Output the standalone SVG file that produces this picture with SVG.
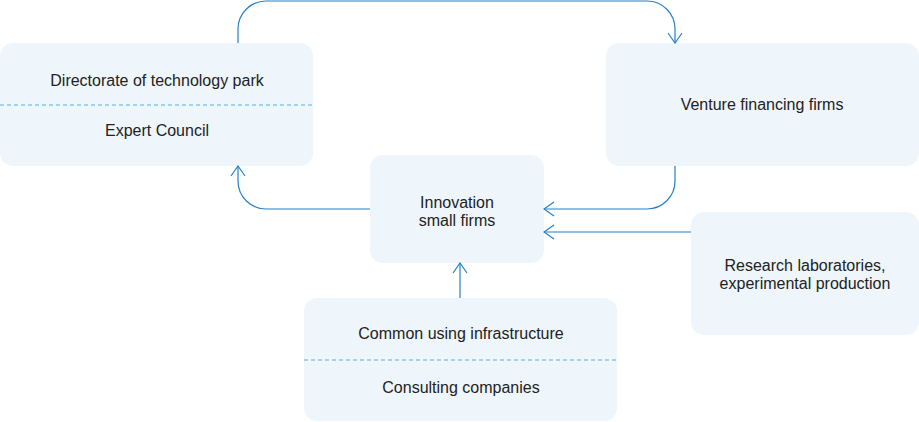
<svg xmlns="http://www.w3.org/2000/svg" width="919" height="422" viewBox="0 0 919 422">
<style>
.box{fill:#eef6fc;}
.sep{stroke:#5aaee0;stroke-width:1.2;stroke-dasharray:4 3;fill:none;}
.t{font-family:"Liberation Sans",Arial,sans-serif;font-size:16px;fill:#222;text-anchor:middle;}
.c{fill:none;stroke:#2580c8;stroke-width:1.2;}
</style>
<defs>
<marker id="ar" viewBox="0 0 12 16" refX="11" refY="8" markerWidth="12" markerHeight="16" markerUnits="userSpaceOnUse" orient="auto">
<path d="M1,1 L11,8 L1,15" fill="none" stroke="#2580c8" stroke-width="1.2"/>
</marker>
</defs>
<g id="n1">
<rect class="box" x="0" y="43" width="313" height="123" rx="13"/>
<line class="sep" x1="0" y1="105" x2="313" y2="105"/>
<text class="t" x="157" y="86">Directorate of technology park</text>
<text class="t" x="157" y="136">Expert Council</text>
</g>
<g id="n2">
<rect class="box" x="606" y="43" width="313" height="123" rx="13"/>
<text class="t" x="762" y="110">Venture financing firms</text>
</g>
<g id="n3">
<rect class="box" x="370" y="155" width="174" height="108" rx="13"/>
<text class="t" x="457" y="208">Innovation</text>
<text class="t" x="457" y="226">small firms</text>
</g>
<g id="n4">
<rect class="box" x="691" y="212" width="228" height="123" rx="13"/>
<text class="t" x="805" y="271">Research laboratories,</text>
<text class="t" x="805" y="289">experimental production</text>
</g>
<g id="n5">
<rect class="box" x="304" y="298" width="313" height="123" rx="13"/>
<line class="sep" x1="304" y1="360" x2="617" y2="360"/>
<text class="t" x="461" y="339">Common using infrastructure</text>
<text class="t" x="461" y="393">Consulting companies</text>
</g>
<g id="connectors">
<path class="c" d="M238,43 V29 A28,28 0 0 1 266,1 H647 A28,28 0 0 1 675,29 V43" marker-end="url(#ar)"/>
<path class="c" d="M675,166 V181 A28,28 0 0 1 647,209 H544" marker-end="url(#ar)"/>
<path class="c" d="M370,209 H266 A28,28 0 0 1 238,181 V166" marker-end="url(#ar)"/>
<path class="c" d="M691,232 H544" marker-end="url(#ar)"/>
<path class="c" d="M460,298 V263" marker-end="url(#ar)"/>
</g>
</svg>
